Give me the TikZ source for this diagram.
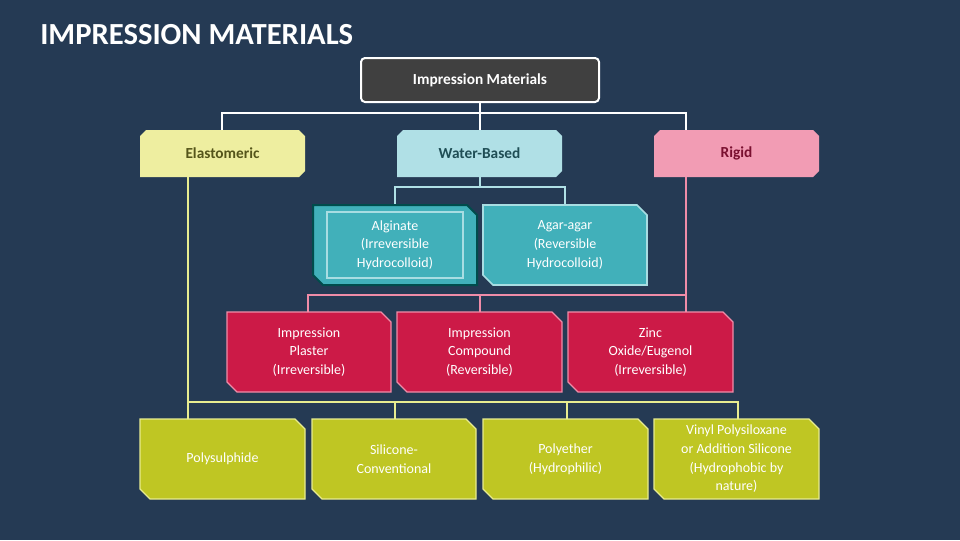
\documentclass[tikz,border=0pt]{standalone}
\usepackage{fontspec}
\setmainfont{Carlito}
\definecolor{bg}{HTML}{253A54}
\definecolor{ylw}{HTML}{EEEEA0}
\definecolor{ylwt}{HTML}{55551A}
\definecolor{tl}{HTML}{B0E0E6}
\definecolor{tlt}{HTML}{1F4E55}
\definecolor{pk}{HTML}{F29CB4}
\definecolor{pkt}{HTML}{7A1030}
\definecolor{teal2}{HTML}{41B0BA}
\definecolor{teal2b}{HTML}{A8DDE2}
\definecolor{rd}{HTML}{CC1A47}
\definecolor{rdb}{HTML}{F08CA8}
\definecolor{ol}{HTML}{BFC623}
\definecolor{olb}{HTML}{E8EC90}
\newcommand\snipbox[7]{% name x1 y1 x2 y2 style text
  \path[#6] ({#2},{#3}) -- ({#4-10},{#3}) -- ({#4},{#3+10}) -- ({#4},{#5}) -- ({#2+10},{#5}) -- ({#2},{#5-10}) -- cycle;
  \node[txt] (#1) at ({(#2+#4)/2},{(#3+#5)/2}) [minimum width={(#4-#2)*0.75pt}, minimum height={(#5-#3)*0.75pt}] {#7};}
\newcommand\octbox[7]{%
  \path[#6] ({#2+6},{#3}) -- ({#4-6},{#3}) -- ({#4},{#3+6}) -- ({#4},{#5-6}) -- ({#4-6},{#5}) -- ({#2},{#5}) -- ({#2},{#3+6}) -- cycle;
  \node[txt] (#1) at ({(#2+#4)/2},{(#3+#5)/2}) [minimum width={(#4-#2)*0.75pt}, minimum height={(#5-#3)*0.75pt}] {#7};}
\begin{document}
\begin{tikzpicture}[x=0.75pt,y=-0.75pt,
  txt/.style={inner sep=0pt,align=center,font=\fontsize{10.5}{14}\selectfont,text=white},
  lvl/.style={font=\fontsize{11}{14}\selectfont\bfseries},
  ln/.style={line width=1.2pt}]
\fill[bg] (0,0) rectangle (960,540);
\useasboundingbox (0,0) rectangle (960,540);
\node[anchor=west,text=white,font=\fontsize{23}{28}\selectfont\bfseries,inner sep=0pt] (title) at (40,35) {IMPRESSION MATERIALS};
% connectors (behind)
\draw[ln,white] (480,102) -- (480,113) coordinate (j0);
\draw[ln,white] (222,130) |- (j0) -| (686,130);
\draw[ln,white] (j0) -- (480,130);
\draw[ln,tl] (480,177) -- (480,187) coordinate (j1);
\draw[ln,tl] (395,205) |- (j1) -| (565,205);
\draw[ln,rdb] (686,177) -- (686,295) coordinate (j2);
\draw[ln,rdb] (j2) -| (308,312);
\draw[ln,rdb] (480,295) -- (480,312);
\draw[ln,rdb] (j2) -- (686,312);
\draw[ln,olb] (188,177) -- (188,402) coordinate (j3);
\draw[ln,olb] (j3) -| (738,420);
\draw[ln,olb] (j3) -- (188,420);
\draw[ln,olb] (395,402) -- (395,420);
\draw[ln,olb] (567,402) -- (567,420);
% top
\node[draw=white,line width=1.5pt,fill=black!75,rounded corners=3pt,minimum width=178.5pt,minimum height=33pt,text=white,font=\fontsize{11.5}{14}\selectfont\bfseries] (top) at (480,80) {Impression Materials};
% level 1
\octbox{elast}{140}{130}{305}{177}{fill=ylw}{\textcolor{ylwt}{\bfseries\fontsize{11.5}{14}\selectfont Elastomeric}}
\octbox{water}{397}{130}{562}{177}{fill=tl}{\textcolor{tlt}{\bfseries\fontsize{11.5}{14}\selectfont Water-Based}}
\octbox{rigid}{654}{130}{819}{177}{fill=pk}{\textcolor{pkt}{\bfseries\fontsize{11.5}{14}\selectfont Rigid}}
% water based
\snipbox{alg}{313}{205}{477}{285}{fill=teal2,draw=teal!60!black,line width=1.5pt}{Alginate\\(Irreversible\\Hydrocolloid)}
\draw[teal2b,line width=0.8pt] (327,212) rectangle (463,278);
\snipbox{agar}{483}{205}{647}{285}{fill=teal2,draw=teal2b,line width=1.2pt}{Agar-agar\\(Reversible\\Hydrocolloid)}
% rigid
\snipbox{plaster}{227}{312}{391}{392}{fill=rd,draw=rdb,line width=1pt}{Impression\\Plaster\\(Irreversible)}
\snipbox{compound}{397}{312}{562}{392}{fill=rd,draw=rdb,line width=1pt}{Impression\\Compound\\(Reversible)}
\snipbox{zinc}{568}{312}{733}{392}{fill=rd,draw=rdb,line width=1pt}{Zinc\\Oxide/Eugenol\\(Irreversible)}
% elastomeric
\snipbox{poly}{140}{419}{305}{499}{fill=ol,draw=olb,line width=1pt}{Polysulphide}
\snipbox{sil}{312}{419}{476}{499}{fill=ol,draw=olb,line width=1pt}{Silicone-\\Conventional}
\snipbox{pe}{483}{419}{648}{499}{fill=ol,draw=olb,line width=1pt}{Polyether\\(Hydrophilic)}
\snipbox{vps}{654}{419}{819}{499}{fill=ol,draw=olb,line width=1pt}{Vinyl Polysiloxane\\or Addition Silicone\\(Hydrophobic by\\nature)}
\end{tikzpicture}
\end{document}
